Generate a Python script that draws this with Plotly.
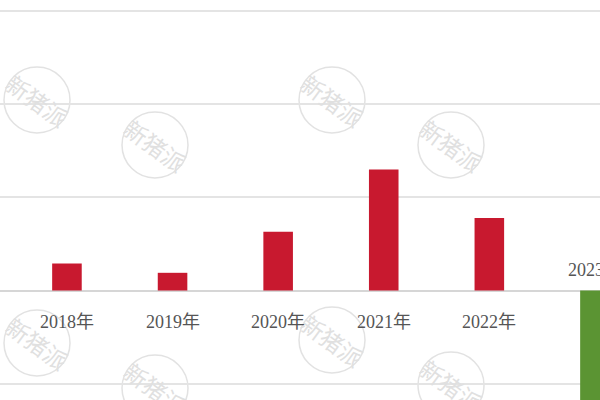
import plotly.graph_objects as go

years = ["2018年", "2019年", "2020年", "2021年", "2022年", "2023年"]
values = [2.9, 1.9, 6.3, 13.0, 7.8, -20.0]
bar_colors = ["#C8192F", "#C8192F", "#C8192F", "#C8192F", "#C8192F", "#5B9433"]

W, H = 600, 400

fig = go.Figure()
fig.add_trace(go.Bar(
    x=years, y=values,
    marker=dict(color=bar_colors, line=dict(width=0)),
    width=0.28,
    hoverinfo="skip",
))

annotations = []
for yr, v in zip(years, values):
    annotations.append(dict(
        x=yr, y=0, xref="x", yref="y", text=yr, showarrow=False,
        yanchor="middle", xanchor="center",
        yshift=-31 if v >= 0 else 21,
        font=dict(family="Liberation Serif, Noto Sans CJK SC", size=18, color="#555555"),
    ))

# watermark stamps (pixel centres converted to paper coords)
wm_centres = [(37, 100), (155, 145), (332, 100), (451, 145),
              (37, 343), (155, 388), (332, 340), (451, 385)]
shapes = []
r = 33
for cx, cy in wm_centres:
    shapes.append(dict(
        type="circle", xref="paper", yref="paper", layer="below",
        x0=(cx - r) / W, x1=(cx + r) / W, y0=1 - (cy + r) / H, y1=1 - (cy - r) / H,
        line=dict(color="#e2e2e2", width=1.5),
    ))
    annotations.append(dict(
        x=cx / W, y=1 - cy / H, xref="paper", yref="paper", text="新猪派",
        showarrow=False, textangle=36, xanchor="center", yanchor="middle",
        font=dict(family="Noto Sans CJK SC", size=23, color="#e0e0e0"),
    ))

fig.update_layout(
    width=W, height=H,
    margin=dict(l=0, r=0, t=0, b=0),
    paper_bgcolor="white", plot_bgcolor="white",
    showlegend=False,
    annotations=annotations,
    shapes=shapes,
)
fig.update_xaxes(range=[-0.634, 5.048], showticklabels=False, showgrid=False,
                 zeroline=False, showline=False, ticks="")
fig.update_yaxes(range=[-11.76, 31.2], dtick=10, tick0=0, showticklabels=False,
                 showgrid=True, gridcolor="#e4e4e4", gridwidth=1.5,
                 zeroline=True, zerolinecolor="#d6d6d6", zerolinewidth=1.5,
                 showline=False, ticks="")

fig.write_html("out.html", config={"displayModeBar": False},
               post_script="document.body.style.margin='0';")
